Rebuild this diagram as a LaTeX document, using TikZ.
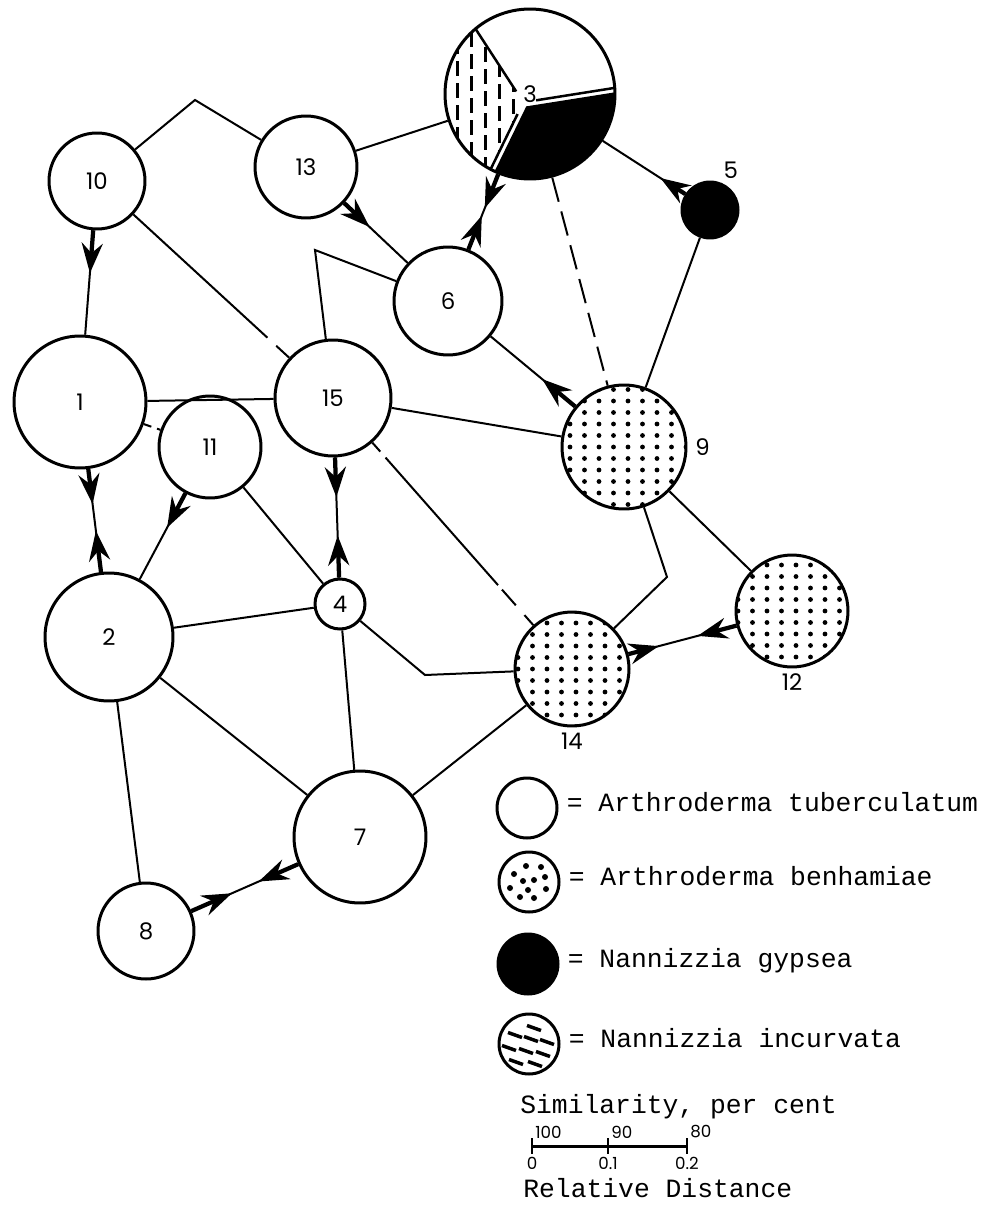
\documentclass[tikz,border=0pt]{standalone}
\usepackage{fontspec}
\newfontfamily\numfont{Poppins}
\newfontfamily\typefont{Liberation Mono}
\usetikzlibrary{arrows.meta, calc, positioning}
\tikzstyle{isolate} = [circle, line width=0.06cm, draw=black, fill=white, inner sep=0pt, font=\numfont\fontsize{13}{15}\selectfont]
\tikzstyle{spotted} = [path picture={\foreach \i in {-5,...,5} \foreach \j in {-6,...,6} {\fill [black] ([shift={(\i*14.5+4,\j*11.5)}]path picture bounding box.center) circle (2.4);}}]
\tikzstyle{link} = [line width=0.04cm]
\tikzstyle{arrow} = [line width=0.085cm, -{Stealth[length=0.6cm, width=0.42cm, inset=0.2cm]}]
\tikzstyle{numeral} = [inner sep=0pt, font=\numfont\fontsize{13}{15}\selectfont]
\tikzstyle{scaletext} = [inner sep=0pt, font=\numfont\fontsize{9.5}{11}\selectfont]
\tikzstyle{legendtext} = [inner sep=0pt, anchor=west, text height=1.25ex, text depth=0.25ex, font=\typefont\fontsize{15}{18}\selectfont]

\begin{document}
\begin{tikzpicture}[x=0.02cm, y=-0.02cm]
		\useasboundingbox (0,0) rectangle (987,1206);
		\node (Iso10) [isolate, minimum size=1.92cm] at (97,181) {10};
		\node (Iso13) [isolate, minimum size=2.04cm] at (306,167) {13};
		\node (Iso3) [isolate, minimum size=3.4cm, path picture={
			\begin{scope}[shift={(path picture bounding box.center)}]
				\begin{scope}
					\clip (0,0) -- (116:120) arc[start angle=116, end angle=237, radius=120] -- cycle;
					\foreach \c in {0,...,6}
						\draw [black, line width=0.06cm, dash pattern=on 0.3cm off 0.14cm] (-80+14*\c,-100-7*\c) -- (-80+14*\c,100);
				\end{scope}
				\fill [black] (3,4) -- +(-9:120) arc[start angle=-9, end angle=116, radius=120] -- cycle;
				\foreach \a in {-9,116,237}
					\draw [black, line width=0.05cm] (\a:13) -- (\a:100);
			\end{scope}}] at (530,94) {3};
		\node (Iso5) [isolate, fill=black, minimum size=1.12cm] at (710,210) {};
		\node (Label5) [numeral, above = 2mm of Iso5.north east] {5};
		\node (Iso6) [isolate, minimum size=2.16cm] at (448,301) {6};
		\node (Iso1) [isolate, minimum size=2.64cm] at (80,402) {1};
		\node (Iso15) [isolate, minimum size=2.32cm] at (333,398) {15};
		\node (Iso11) [isolate, minimum size=2.04cm] at (210,447) {11};
		\node (Iso9) [isolate, spotted, minimum size=2.48cm] at (624,447) {};
		\node (Label9) [numeral, right = 1.5mm of Iso9] {9};
		\node (Iso2) [isolate, minimum size=2.56cm] at (109,637) {2};
		\node (Iso4) [isolate, minimum size=1cm] at (340,604) {4};
		\node (Iso12) [isolate, spotted, minimum size=2.24cm] at (792,611) {};
		\node (Label12) [numeral, below = 1mm of Iso12] {12};
		\node (Iso14) [isolate, spotted, minimum size=2.28cm] at (572,669) {};
		\node (Label14) [numeral, below = 1mm of Iso14] {14};
		\node (Iso7) [isolate, minimum size=2.64cm] at (360,837) {7};
		\node (Iso8) [isolate, minimum size=1.92cm] at (146,931) {8};
		\coordinate (Bend10to13) at (195,100);
		\coordinate (Bend15to6) at (315,250);
		\coordinate (Bend4to14) at (425,675);
		\coordinate (Bend9to14) at (667,577);
		\draw [link] (Iso10) -- (Bend10to13) -- (Iso13);
		\draw [link] (Iso13) -- (Iso3);
		\draw [link] (Iso15) -- (Bend15to6) -- (Iso6);
		\draw [link, dash pattern=on 0.5cm off 0.2cm] (Iso3) -- (Iso9);
		\draw [link] (Iso5) -- (Iso9);
		\draw [link] (Iso15) -- (Iso9);
		\draw [link] (Iso1) -- (Iso15);
		\draw [link, dash pattern=on 0.16cm off 0.12cm] (Iso1) -- (Iso11);
		\draw [link] (Iso11) -- (Iso4);
		\draw [link] (Iso2) -- (Iso4);
		\draw [link] (Iso4) -- (Bend4to14) -- (Iso14);
		\draw [link] (Iso4) -- (Iso7);
		\draw [link] (Iso2) -- (Iso7);
		\draw [link] (Iso2) -- (Iso8);
		\draw [link] (Iso14) -- (Iso7);
		\draw [link] (Iso9) -- (Iso12);
		\draw [link] (Iso9) -- (Bend9to14) -- (Iso14);
		\draw [link, dash pattern=on 3.64cm off 0.24cm on 1cm] (Iso10) -- (Iso15);
		\draw [link, dash pattern=on 0.24cm off 0.16cm on 3.4cm off 0.12cm on 0.42cm off 0.26cm on 1cm] (Iso15) -- (Iso14);
		\path (Iso10) -- (Iso1) coordinate[pos=0.41] (Tip10to1);
		\path (Iso13) -- (Iso6) coordinate[pos=0.4] (Tip13to6);
		\path (Iso9) -- (Iso6) coordinate[pos=0.39] (Tip9to6);
		\path (Iso11) -- (Iso2) coordinate[pos=0.4] (Tip11to2);
		\path (Iso5) -- (Iso3) coordinate[pos=0.3] (Tip5to3);
		\path (Iso1) -- (Iso2) coordinate[pos=0.34] (Tip1to2) coordinate[pos=0.6] (Tip2to1);
		\path (Iso3) -- (Iso6) coordinate[pos=0.45] (Tip3to6) coordinate[pos=0.55] (Tip6to3);
		\path (Iso15) -- (Iso4) coordinate[pos=0.33] (Tip15to4) coordinate[pos=0.65] (Tip4to15);
		\path (Iso7) -- (Iso8) coordinate[pos=0.37] (Tip7to8) coordinate[pos=0.62] (Tip8to7);
		\path (Iso14) -- (Iso12) coordinate[pos=0.28] (Tip14to12) coordinate[pos=0.64] (Tip12to14);
		\draw [link] (Iso10) -- (Iso1);
		\draw [link] (Iso13) -- (Iso6);
		\draw [link] (Iso9) -- (Iso6);
		\draw [link] (Iso11) -- (Iso2);
		\draw [link] (Iso5) -- (Iso3);
		\draw [link] (Iso1) -- (Iso2);
		\draw [link] (Iso3) -- (Iso6);
		\draw [link] (Iso15) -- (Iso4);
		\draw [link] (Iso7) -- (Iso8);
		\draw [link] (Iso14) -- (Iso12);
		\draw [arrow] (Iso10) -- (Tip10to1);
		\draw [arrow] (Iso13) -- (Tip13to6);
		\draw [arrow] (Iso9) -- (Tip9to6);
		\draw [arrow] (Iso11) -- (Tip11to2);
		\draw [arrow] (Iso5) -- (Tip5to3);
		\draw [arrow] (Iso1) -- (Tip1to2);
		\draw [arrow] (Iso2) -- (Tip2to1);
		\draw [arrow] (Iso3) -- (Tip3to6);
		\draw [arrow] (Iso6) -- (Tip6to3);
		\draw [arrow] (Iso15) -- (Tip15to4);
		\draw [arrow] (Iso4) -- (Tip4to15);
		\draw [arrow] (Iso7) -- (Tip7to8);
		\draw [arrow] (Iso8) -- (Tip8to7);
		\draw [arrow] (Iso14) -- (Tip14to12);
		\draw [arrow] (Iso12) -- (Tip12to14);
		\node (KeyTuberculatum) [isolate, minimum size=1.2cm] at (527,808) {};
		\node (TextTuberculatum) [legendtext, right = 1.6mm of KeyTuberculatum] {= Arthroderma tuberculatum};
		\node (KeyBenhamiae) [isolate, minimum size=1.2cm, path picture={
			\foreach \p in {(-3,-16),(12,-15),(-15,-8),(16,-5),(-6,-1),(5,-2),(-19,6),(17,7),(-9,15),(5,16),(-1,8)}
				\fill [black] ([shift={\p}]path picture bounding box.center) circle (3);}] at (529,882) {};
		\node (TextBenhamiae) [legendtext, right = 1.6mm of KeyBenhamiae] {= Arthroderma benhamiae};
		\node (KeyGypsea) [isolate, fill=black, minimum size=1.2cm] at (528,964) {};
		\node (TextGypsea) [legendtext, right = 1.6mm of KeyGypsea] {= Nannizzia gypsea};
		\node (KeyIncurvata) [isolate, minimum size=1.2cm, path picture={
			\foreach \p in {(5,-16),(-14,-9),(2,-5),(18,-2),(-20,4),(-3,7),(14,10),(-13,18),(6,20)}
				\draw [black, line width=0.07cm] ([shift={\p}]path picture bounding box.center) ++(-7,-2.5) -- ++(14,5);}] at (529,1044) {};
		\node (TextIncurvata) [legendtext, right = 1.6mm of KeyIncurvata] {= Nannizzia incurvata};
		\node (ScaleTitle) [legendtext] at (520,1110) {Similarity, per cent};
		\coordinate (ScaleLeft) at (532,1146);
		\coordinate (ScaleMid) at (608,1146);
		\coordinate (ScaleRight) at (687,1146);
		\draw [line width=0.06cm] (ScaleLeft) -- (ScaleRight);
		\foreach \t in {ScaleLeft, ScaleMid, ScaleRight}
			\draw [line width=0.05cm] (\t) ++(0,-8) -- ++(0,16);
		\node (Scale100) [scaletext, above right = 1.5mm and 0.6mm of ScaleLeft] {100};
		\node (Scale90) [scaletext, above right = 1.5mm and 0.6mm of ScaleMid] {90};
		\node (Scale80) [scaletext, above right = 1.5mm and 0.6mm of ScaleRight] {80};
		\node (Dist0) [scaletext, below = 2.1mm of ScaleLeft] {0};
		\node (Dist1) [scaletext, below = 2.1mm of ScaleMid] {0.1};
		\node (Dist2) [scaletext, below = 2.1mm of ScaleRight] {0.2};
		\node (ScaleCaption) [legendtext] at (523,1194) {Relative Distance};
\end{tikzpicture}
\end{document}
